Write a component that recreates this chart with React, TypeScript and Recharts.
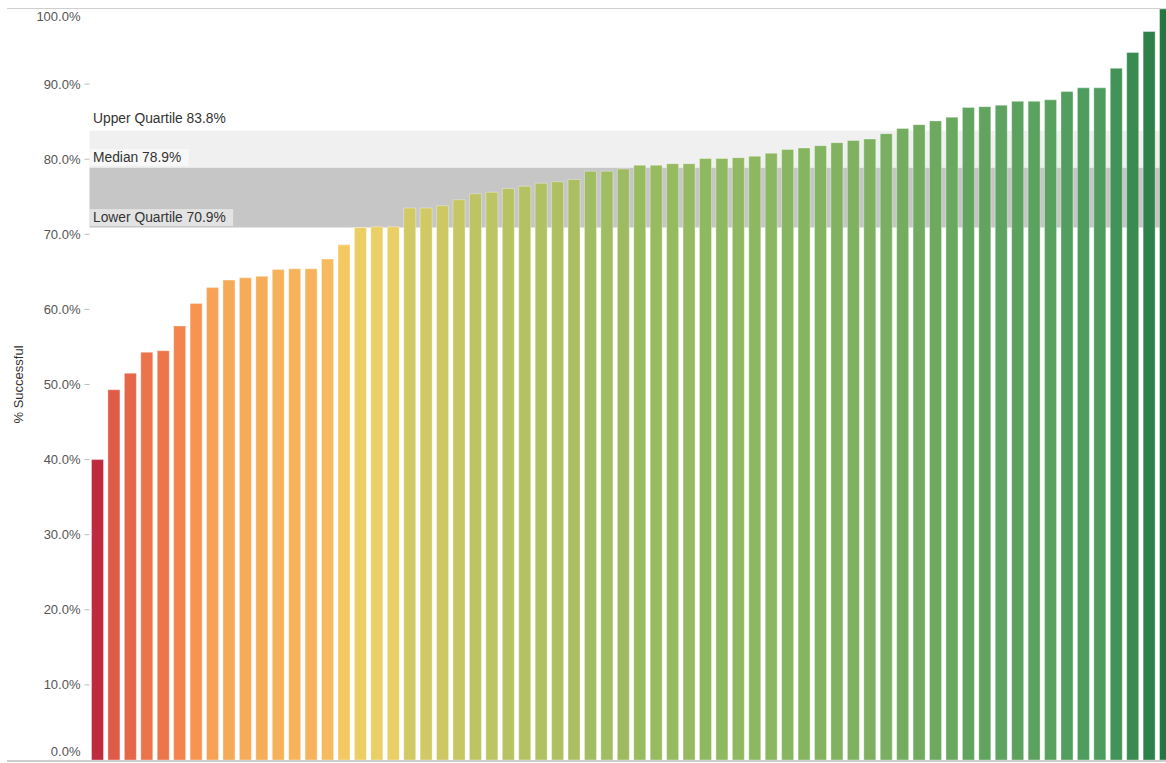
import React from 'react';
import { BarChart, Bar, XAxis, YAxis, Cell, ReferenceArea, ReferenceLine, Label } from 'recharts';

// success rate per item, sorted ascending
const rates = [
  40.0, 49.3, 51.5, 54.3, 54.5, 57.8, 60.8, 62.9, 63.9, 64.2,
  64.4, 65.3, 65.4, 65.4, 66.7, 68.6, 70.9, 71.0, 71.0, 73.5,
  73.5, 73.8, 74.6, 75.4, 75.6, 76.1, 76.4, 76.8, 77.0, 77.3,
  78.4, 78.4, 78.7, 79.2, 79.2, 79.4, 79.4, 80.1, 80.1, 80.2,
  80.4, 80.8, 81.3, 81.5, 81.8, 82.2, 82.5, 82.7, 83.4, 84.1,
  84.6, 85.1, 85.6, 86.9, 87.0, 87.2, 87.7, 87.7, 87.9, 89.0,
  89.5, 89.5, 92.1, 94.2, 97.0, 100.0,
];
const items = rates.map((_, i) => `Item ${i + 1}`);

const quartileNames = ['Upper Quartile', 'Median', 'Lower Quartile'];
const quartileValues = [83.8, 78.9, 70.9];

const yTicks = [0, 10, 20, 30, 40, 50, 60, 70, 80, 90, 100];

// red-yellow-green diverging palette, 40% -> 100%
const colorStops = [40, 50, 60, 70, 80, 90, 100];
const palette = ['#be2a3e', '#e25f48', '#f88f4d', '#f4d166', '#90b960', '#4b9b5f', '#22763f'];

const FONT = "'Liberation Sans', Arial, sans-serif";

const hexToRgb = (h: string) => [1, 3, 5].map((i) => parseInt(h.slice(i, i + 2), 16));

const colorFor = (v: number) => {
  if (v <= colorStops[0]) return palette[0];
  for (let i = 1; i < colorStops.length; i++) {
    if (v <= colorStops[i]) {
      const t = (v - colorStops[i - 1]) / (colorStops[i] - colorStops[i - 1]);
      const a = hexToRgb(palette[i - 1]);
      const b = hexToRgb(palette[i]);
      const c = a.map((x, k) => Math.round(x + (b[k] - x) * t));
      return `rgb(${c[0]},${c[1]},${c[2]})`;
    }
  }
  return palette[palette.length - 1];
};

const data = rates.map((r, i) => ({ item: items[i], rate: r }));

let ctx: CanvasRenderingContext2D | null = null;
const textWidth = (s: string, font: string) => {
  if (!ctx) ctx = document.createElement('canvas').getContext('2d');
  if (!ctx) return s.length * 7;
  ctx.font = font;
  return ctx.measureText(s).width;
};

const YTick = (props: any) => {
  const { x, y, payload } = props;
  const v = payload.value as number;
  const shift = v === 100 ? 7 : v === 0 ? -8.5 : 0;
  return (
    <g>
      {v > 0 && v < 100 && <line x1={x + 4} x2={x + 9} y1={y} y2={y} stroke="#bdbdbd" />}
      <text x={x} y={y + shift} dy="0.35em" textAnchor="end" fontSize={13} fill="#555" fontFamily={FONT}>
        {v.toFixed(1)}%
      </text>
    </g>
  );
};

const YTitle = (props: any) => {
  const vb = props.viewBox || {};
  const cy = (vb.y ?? 9) + (vb.height ?? 751) / 2;
  return (
    <text x={18} y={cy} transform={`rotate(-90 18 ${cy})`} dy="0.35em" textAnchor="middle" fontSize={13} fill="#333" fontFamily={FONT}>
      % Successful
    </text>
  );
};

const QuartileLabel = ({ viewBox, text, lift }: any) => {
  if (!viewBox) return null;
  const w = textWidth(text, `13.8px ${FONT}`);
  const x = viewBox.x;
  const y = viewBox.y;
  return (
    <g>
      <rect x={x} y={y - lift - 8} width={w + 11} height={17} fill="#ffffff" fillOpacity={0.5} />
      <text x={x + 3.5} y={y - lift} dy="0.35em" fontSize={13.8} fill="#333" fontFamily={FONT}>
        {text}
      </text>
    </g>
  );
};

const App: React.FC = () => {
  return (
    <div style={{ position: 'absolute', left: 0, top: 0, width: 1166, height: 763, overflow: 'hidden', background: '#fff' }}>
      <div style={{ position: 'absolute', left: 7, top: 8, width: 1159, height: 1, background: '#cfcfcf' }} />
      <BarChart width={1176} height={763} data={data} margin={{ top: 9, right: 2, bottom: 3, left: 0 }}>
        <XAxis dataKey="item" hide />
        <YAxis
          domain={[0, 100]}
          ticks={yTicks}
          interval={0}
          width={89.5}
          tickSize={5}
          tickMargin={4}
          tickLine={false}
          axisLine={false}
          tick={<YTick />}
        >
          <Label content={<YTitle />} />
        </YAxis>
        <ReferenceArea y1={quartileValues[2]} y2={quartileValues[1]} fill="#c6c6c6" fillOpacity={1} stroke="none" />
        <ReferenceArea y1={quartileValues[1]} y2={quartileValues[0]} fill="#f0f0f0" fillOpacity={1} stroke="none" />
        <Bar dataKey="rate" barSize={12} isAnimationActive={false} stroke="#ffffff" strokeOpacity={0.35} strokeWidth={1}>
          {data.map((d, i) => (
            <Cell key={`cell-${i}`} fill={colorFor(d.rate)} />
          ))}
        </Bar>
        {quartileValues.map((v, i) => (
          <ReferenceLine
            key={quartileNames[i]}
            y={v}
            stroke="none"
            label={<QuartileLabel text={`${quartileNames[i]} ${v.toFixed(1)}%`} lift={i === 0 ? 12 : 10.5} />}
          />
        ))}
      </BarChart>
      <div style={{ position: 'absolute', left: 7, top: 760, width: 1159, height: 1.5, background: '#cccccc' }} />
    </div>
  );
};

export default App;
